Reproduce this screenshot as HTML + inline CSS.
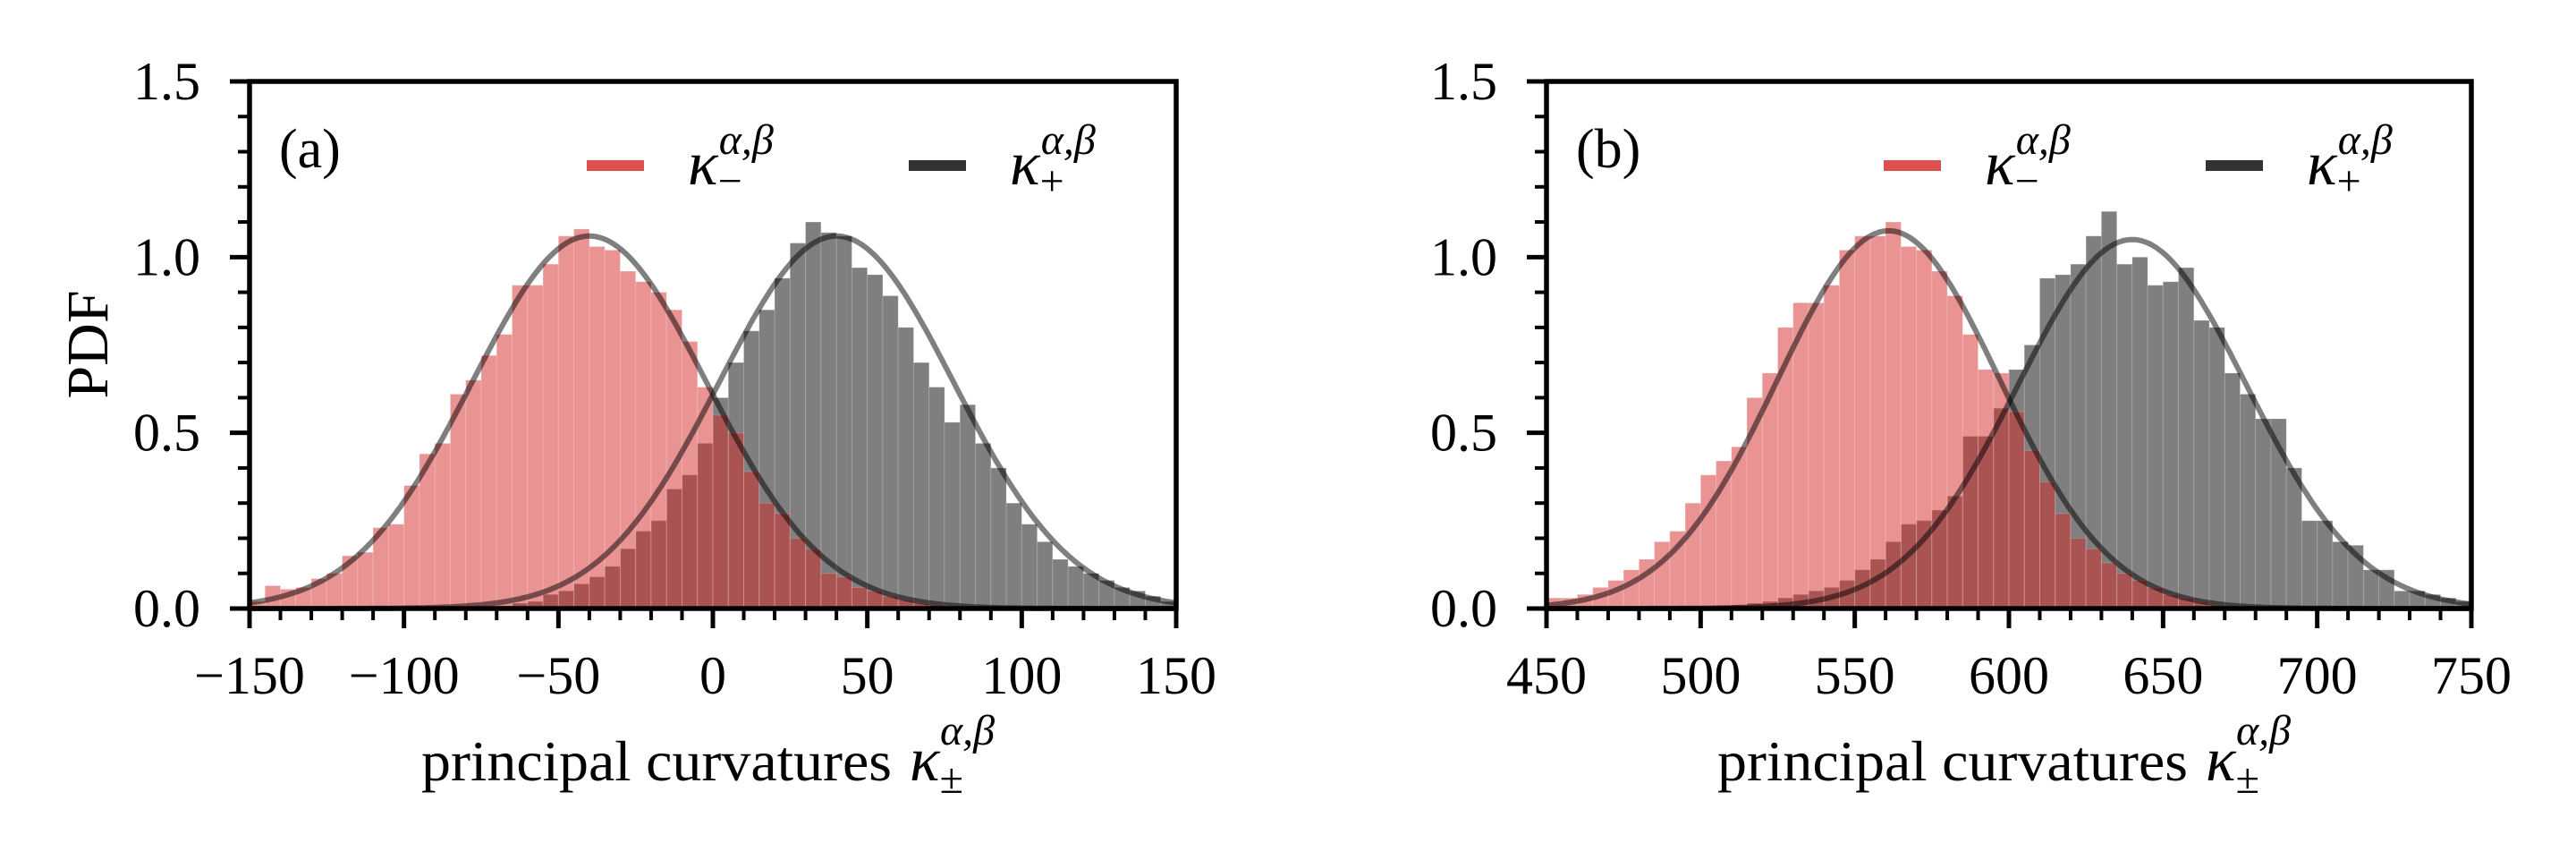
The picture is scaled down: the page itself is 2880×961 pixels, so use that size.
<!DOCTYPE html>
<html><head><meta charset="utf-8">
<style>
html,body{margin:0;padding:0;background:#fff;}
svg{display:block;}
text{font-family:"Liberation Serif","DejaVu Serif",serif;fill:#000;}
</style></head>
<body>
<svg id="fig" width="2880" height="961" viewBox="0 0 2880 961" xmlns="http://www.w3.org/2000/svg"></svg>
<script>
// ---- data ----
const binWidth = 5;
const aBinStart = -150;
const bBinStart = 450;
const aRed = [0.02,0.065,0.055,0.06,0.085,0.1,0.15,0.16,0.23,0.24,0.35,0.44,0.47,0.61,0.65,0.72,0.78,0.92,0.92,0.98,1.06,1.08,1.03,1.02,0.96,0.93,0.9,0.85,0.76,0.63,0.55,0.5,0.39,0.3,0.27,0.2,0.17,0.1,0.09,0.06,0.05,0.035,0.025,0.015,0.01,0.006,0.004,0.002,0,0,0,0,0,0,0,0,0,0,0,0];
const aBlack = [0,0,0,0,0,0,0,0,0,0,0,0,0,0,0.003,0.005,0.008,0.015,0.02,0.04,0.05,0.07,0.09,0.12,0.17,0.22,0.25,0.34,0.38,0.47,0.6,0.7,0.79,0.85,0.94,1.04,1.1,1.07,1.06,0.97,0.95,0.89,0.8,0.7,0.63,0.53,0.58,0.47,0.4,0.3,0.24,0.19,0.14,0.12,0.1,0.08,0.06,0.05,0.035,0.02];
const bRed = [0.03,0.03,0.04,0.06,0.08,0.11,0.14,0.19,0.22,0.3,0.38,0.42,0.46,0.6,0.67,0.8,0.87,0.87,0.92,1.02,1.06,1.06,1.1,1.03,1.02,0.96,0.89,0.78,0.68,0.67,0.56,0.45,0.36,0.27,0.2,0.17,0.13,0.1,0.08,0.06,0.04,0.03,0.02,0.01,0.005,0,0,0,0,0,0,0,0,0,0,0,0,0,0,0];
const bBlack = [0,0,0,0,0,0,0,0,0,0.003,0.005,0.008,0.01,0.015,0.02,0.03,0.04,0.05,0.06,0.08,0.11,0.14,0.19,0.24,0.25,0.28,0.32,0.49,0.49,0.57,0.68,0.75,0.94,0.95,0.98,1.06,1.13,0.98,1.0,0.92,0.93,0.97,0.82,0.8,0.67,0.61,0.54,0.54,0.4,0.25,0.25,0.19,0.18,0.11,0.11,0.05,0.05,0.04,0.03,0.02];
// fitted gaussian params: [mean, sd, peak]
const aRedFit = [-40, 38, 1.06];
const aBlackFit = [40, 38, 1.06];
const bRedFit = [561, 36, 1.075];
const bBlackFit = [640, 37, 1.05];
const aXTicks = [-150,-100,-50,0,50,100,150];
const aXTickLabels = ["\u2212150","\u2212100","\u221250","0","50","100","150"];
const bXTicks = [450,500,550,600,650,700,750];
const bXTickLabels = ["450","500","550","600","650","700","750"];
const yTicks = [0,0.5,1.0,1.5];
const yTickLabels = ["0.0","0.5","1.0","1.5"];

const NS = "http://www.w3.org/2000/svg";
const svg = document.getElementById('fig');
function mk(tag, attrs, parent){
  const e = document.createElementNS(NS, tag);
  for (const k in attrs) e.setAttribute(k, attrs[k]);
  (parent||svg).appendChild(e);
  return e;
}

function panel(cfg){
  const g = mk('g', {});
  
  
  const L=cfg.left, R=cfg.right, T=91, B=680;
  const xs = v => L + (v - cfg.xmin)/(cfg.xmax-cfg.xmin)*(R-L);
  const ys = v => B - v/1.5*(B-T);
  function hist(vals, start, color, nm){
    const hg = mk('g', {}, g);
    
    
    vals.forEach((v,i)=>{
      if(v<=0) return;
      const x0 = xs(start + i*binWidth), x1 = xs(start + (i+1)*binWidth);
      const r = mk('rect', {x:x0, y:ys(v), width:x1-x0, height:ys(0)-ys(v), fill:color, stroke:'rgba(255,255,255,0.18)', 'stroke-width':1}, hg);
      
      
    });
  }
  hist(cfg.black, cfg.binStart, 'rgba(0,0,0,0.5)', 'kappa-plus-histogram');
  hist(cfg.red, cfg.binStart, 'rgba(214,39,40,0.5)', 'kappa-minus-histogram');
  function fit(p, nm){
    let d='';
    for(let k=0;k<=400;k++){
      const x = cfg.xmin + (cfg.xmax-cfg.xmin)*k/400;
      const y = p[2]*Math.exp(-(x-p[0])*(x-p[0])/(2*p[1]*p[1]));
      d += (k?'L':'M') + xs(x).toFixed(1) + ',' + ys(y).toFixed(1);
    }
    const pth = mk('path', {d:d, fill:'none', stroke:'rgba(0,0,0,0.5)', 'stroke-width':6}, g);
    
    
  }
  fit(cfg.redFit, 'kappa-minus-fit-curve');
  fit(cfg.blackFit, 'kappa-plus-fit-curve');
  const fr = mk('rect', {x:L, y:T, width:R-L, height:B-T, fill:'none', stroke:'#000', 'stroke-width':5.5}, g);
  
  
  for(let v=cfg.xmin; v<=cfg.xmax+0.001; v+=10){
    const major = cfg.xticks.indexOf(v) >= 0;
    const t = mk('line', {x1:xs(v), x2:xs(v), y1:B, y2:B+(major?22:13), stroke:'#000', 'stroke-width':major?5:4}, g);
    
    
  }
  cfg.xticks.forEach((v,i)=>{
    const t = mk('text', {x:xs(v), y:775, 'text-anchor':'middle', 'font-size':60}, g);
    t.textContent = cfg.xlabels[i];
    
    
  });
  for(let k=0;k<=15;k++){
    const v = k/10;
    const major = (k%5===0);
    const t = mk('line', {x1:L, x2:L-(major?22:13), y1:ys(v), y2:ys(v), stroke:'#000', 'stroke-width':major?5:4}, g);
    
    
  }
  yTicks.forEach((v,i)=>{
    const t = mk('text', {x:L-55, y:ys(v)+20, 'text-anchor':'end', 'font-size':60}, g);
    t.textContent = yTickLabels[i];
    
    
  });
  const pl = mk('text', {x:L+33, y:187, 'font-size':62}, g);
  pl.textContent = cfg.tag;
  
  
  function legend(px, color, sub, nm){
    const lg = mk('g', {}, g);
    
    
    mk('rect', {x:px, y:179, width:64, height:12, fill:color}, lg);
    const tx = mk('text', {x:px+113, y:206, 'font-size':70, 'font-style':'italic'}, lg);
    tx.innerHTML = '\u03ba<tspan font-size="48" font-style="normal" dy="12">' + sub + '</tspan><tspan font-size="48" dx="-26" dy="-46">\u03b1,\u03b2</tspan>';
  }
  legend(L + 377, 'rgb(221,80,80)', '\u2212', 'legend-entry-kappa-minus');
  legend(L + 737, 'rgb(50,50,50)', '+', 'legend-entry-kappa-plus');
  const xl = mk('text', {x:(L+R)/2 - 326, y:872, 'font-size':64}, g);
  xl.innerHTML = '<tspan textLength="526" lengthAdjust="spacingAndGlyphs">principal curvatures</tspan><tspan dx="20" font-style="italic" font-size="70">\u03ba</tspan><tspan font-size="48" dy="14">\u00b1</tspan><tspan font-size="48" dx="-26" dy="-54" font-style="italic">\u03b1,\u03b2</tspan>';
  
  
}

panel({name:'panel-a', tag:'(a)', left:279, right:1315, xmin:-150, xmax:150, binStart:aBinStart, red:aRed, black:aBlack, redFit:aRedFit, blackFit:aBlackFit, xticks:aXTicks, xlabels:aXTickLabels});
panel({name:'panel-b', tag:'(b)', left:1729, right:2763, xmin:450, xmax:750, binStart:bBinStart, red:bRed, black:bBlack, redFit:bRedFit, blackFit:bBlackFit, xticks:bXTicks, xlabels:bXTickLabels});

const yl = mk('text', {x:0, y:0, 'font-size':66, 'text-anchor':'middle', transform:'translate(120,385) rotate(-90)'});
yl.textContent = 'PDF';


</script>
</body></html>
